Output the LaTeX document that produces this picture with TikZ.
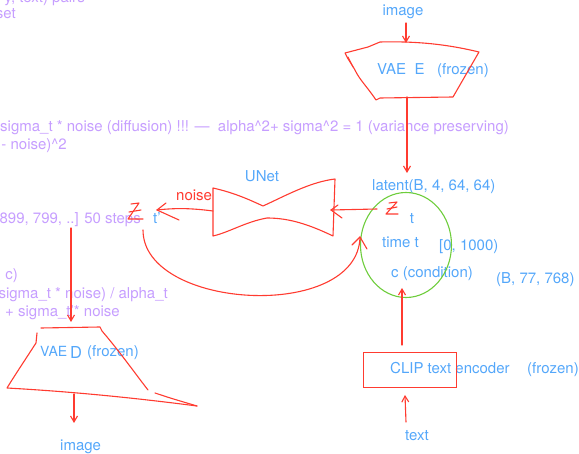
\documentclass[tikz,border=0pt]{standalone}
\usepackage{fontspec}
\setmainfont{TeX Gyre Heros}
\usetikzlibrary{arrows.meta,shapes.geometric}
\definecolor{sk}{RGB}{255,59,48}
\definecolor{bt}{RGB}{84,167,250}
\definecolor{pt}{RGB}{198,158,255}
\definecolor{gr}{RGB}{110,205,60}
\begin{document}
\begin{tikzpicture}[x=1pt,y=-1pt,
  >={Straight Barb[length=6pt,width=7pt]},
  stroke/.style={draw=sk, line width=1.1pt, line cap=round, line join=round},
  btxt/.style={text=bt, inner sep=0pt, font=\fontsize{15}{18}\selectfont},
  ptxt/.style={text=pt, inner sep=0pt, font=\fontsize{15}{18}\selectfont},
  rtxt/.style={text=sk, inner sep=0pt, font=\fontsize{15}{18}\selectfont},
]
\useasboundingbox (0,0) rectangle (579,454);
\clip (0,0) rectangle (579,454);

% purple notes (cut at the left edge)
\node[ptxt, anchor=base east] (p1) at (85,3) {y, text) pairs};
\node[ptxt, anchor=base east] (p2) at (16,19) {set};
\node[ptxt, anchor=base west] (p3) at (0,132) {sigma\_t * noise (diffusion) !!! \textemdash\ \ alpha\textasciicircum 2+ sigma\textasciicircum 2 = 1 (variance preserving)};
\node[ptxt, anchor=base east] (p4) at (67,150) {- noise)\textasciicircum 2};
\node[ptxt, anchor=base east] (p5) at (141,224) {899, 799, ..] 50 steps};
\node[ptxt, anchor=base east] (p6) at (18,280) {, c)};
\node[ptxt, anchor=base east] (p7) at (168,299) {sigma\_t * noise) / alpha\_t};
\node[ptxt, anchor=base east] (p8) at (120,317) {+ sigma\_t'* noise};

% blue labels
\node[btxt, anchor=base] (img1) at (403,16) {image};
\node[btxt, anchor=base west] (vaeE) at (377,75) {VAE\ \ E};
\node[btxt, anchor=base west] (frzE) at (437,75) {(frozen)};
\node[btxt, anchor=base west] (latent) at (372,191) {latent(B, 4, 64, 64)};
\node[btxt, anchor=base] (tsub) at (412,224) {t};
\node[btxt, anchor=base west] (timet) at (382,248) {time t};
\node[btxt, anchor=base west] (range) at (439,251) {[0, 1000)};
\node[btxt, anchor=base west] (cond) at (391,278) {c (condition)};
\node[btxt, anchor=base west] (bshape) at (496,284) {(B, 77, 768)};
\node[btxt, anchor=base] (unet) at (262,182) {UNet};
\node[rtxt, anchor=base west] (noise) at (176,201) {noise};
\node[btxt, anchor=base west] (tprime) at (153,224) {t'};
\node[btxt, anchor=base west] (clip) at (390,374) {CLIP text encoder};
\node[btxt, anchor=base west] (frzC) at (527,374) {(frozen)};
\node[btxt, anchor=base west] (txt) at (405,441) {text};
\node[btxt, anchor=base west, font=\fontsize{14}{17}\selectfont] (vaeD) at (40,357) {VAE};
\node[btxt, anchor=base west, font=\fontsize{16.5}{20}\selectfont] (dD) at (70,359) {D};
\node[btxt, anchor=base west] (frzD) at (87,357) {(frozen)};
\node[btxt, anchor=base west] (img2) at (60,451) {image};

% green ellipse
\node[draw=gr, line width=1.1pt, ellipse, minimum width=91pt, minimum height=105pt, inner sep=0pt] (circ) at (406,245) {};

% CLIP box
\node[draw=sk, line width=1pt, minimum width=93pt, minimum height=35pt, inner sep=0pt] (clipbox) at (409.5,370.5) {};

% VAE E shape
\draw[stroke] (345,53) -- (368,47) -- (380,42) .. controls (420,41) and (450,45) .. (479,52)
  -- (453,97) -- (380,98) -- (376,100) .. controls (368,88) and (360,80) .. (356,72)
  .. controls (352,64) and (348,60) .. cycle;
\draw[stroke] (348,57) -- (353,67);

% VAE D shape
\draw[stroke] (41,328) -- (100,327) -- (102,331) .. controls (120,352) and (134,372) .. (148,390);
\draw[stroke] (37,333) -- (36,343) .. controls (25,360) and (15,375) .. (7,388) .. controls (60,391) and (120,396) .. (197,406);
\draw[stroke] (155,393) .. controls (170,398) .. (197,406);

% UNet bow tie
\draw[stroke] (213,188) .. controls (235,193) and (250,200) .. (263,206)
  .. controls (285,196) and (310,182) .. (335,179) -- (333,236)
  .. controls (310,225) and (290,218) .. (267,218)
  .. controls (245,222) and (230,232) .. (213,236) -- cycle;

% Z marks
\draw[stroke] (131,204) -- (139,203) -- (128,219) -- (143,219);
\draw[stroke] (129,212) -- (141,210);
\draw[stroke] (389,203) -- (397,202) -- (386,214) -- (398,214);
\draw[stroke] (387,209) -- (397,207);

% coordinates for connectors
\coordinate (a1s) at (406,23);  \coordinate (a1e) at (406,43);
\coordinate (a2s) at (407,97);  \coordinate (a2e) at (407,173);
\coordinate (cL)  at (377,209); \coordinate (uR)  at (331,210);
\coordinate (uL)  at (213,211); \coordinate (tipL) at (157,210);
\coordinate (cs)  at (143,230); \coordinate (ce)  at (360,237);
\coordinate (vs)  at (71,228);  \coordinate (ve)  at (71,322);
\coordinate (ds)  at (74,394);  \coordinate (de)  at (74,423);
\coordinate (ks)  at (402,345); \coordinate (ke)  at (402,288);
\coordinate (ts)  at (406,422); \coordinate (te)  at (405,395);

\draw[stroke,->] (a1s) -- (a1e);
\draw[stroke,->] (a2s) -- (a2e);
\draw[stroke] (cL) -- (uR);
\draw[stroke] (uR) -- ++(7,-5);
\draw[stroke] (uR) -- ++(11,8);
\draw[stroke] (uL) .. controls (190,208) and (175,208) .. (tipL);
\draw[stroke] (tipL) -- ++(9,-7);
\draw[stroke] (tipL) -- ++(22,10);
\draw[stroke] (cs) .. controls (143,310) and (358,322) .. (ce);
\draw[stroke] (ce) -- ++(-8,8);
\draw[stroke] (ce) -- ++(7,12);
\draw[stroke,->] (vs) -- (ve);
\draw[stroke,->] (ds) -- (de);
\draw[stroke,->] (ks) -- (ke);
\draw[stroke,->] (ts) -- (te);
\end{tikzpicture}
\end{document}
